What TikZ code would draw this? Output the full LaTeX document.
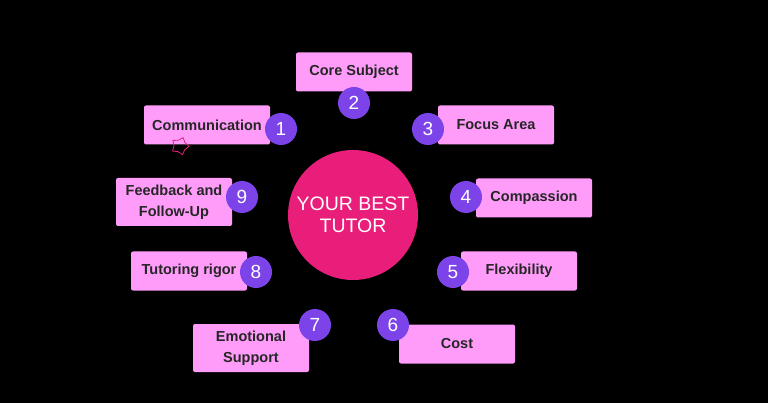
\documentclass[tikz,border=0pt]{standalone}
\usepackage{fontspec}
\setmainfont{Liberation Sans}
\usetikzlibrary{shapes.geometric}
\definecolor{hubpink}{HTML}{E91E7B}
\definecolor{boxpink}{HTML}{FF9CFA}
\definecolor{numviolet}{HTML}{7C44E8}
\tikzset{
  topic/.style={fill=boxpink, rounded corners=2pt, minimum width=116pt, minimum height=39pt, inner sep=1pt, align=center, font=\bfseries\fontsize{14.5}{21}\selectfont, text=black!85},
  num/.style={circle, fill=numviolet, minimum size=32pt, inner sep=0pt, text=white, font=\fontsize{19}{19}\selectfont}
}
\begin{document}
\begin{tikzpicture}[x=1pt, y=-1pt]
    \fill[black] (0,0) rectangle (768,403);
    \useasboundingbox (0,0) rectangle (768,403);
    \node[circle, fill=hubpink, minimum size=130pt, text=white, align=center, font=\fontsize{19.5}{22}\selectfont](hub) at (353,215){YOUR BEST\\TUTOR};

    \node[topic, minimum width=126pt](t1) at (207,125){Communication};
    \node[topic](t2) at (354,72){Core Subject};
    \node[topic](t3) at (496,125){Focus Area};
    \node[topic](t4) at (534,198){Compassion};
    \node[topic](t5) at (519,271){Flexibility};
    \node[topic](t6) at (457,344){Cost};
    \node[topic, minimum height=48pt](t7) at (251,348){Emotional\\Support};
    \node[topic](t8) at (189,271){Tutoring rigor};
    \node[topic, minimum height=48pt](t9) at (174,202){Feedback and\\Follow-Up};

    \node[num](n1) at (281,129){1};
    \node[num](n2) at (354,103){2};
    \node[num](n3) at (428,129){3};
    \node[num](n4) at (466,197){4};
    \node[num](n5) at (453,272){5};
    \node[num](n6) at (393,325){6};
    \node[num](n7) at (315,325){7};
    \node[num](n8) at (256,272){8};
    \node[num](n9) at (242,197){9};

    \node[star, star points=5, draw=hubpink, line width=0.8pt, minimum size=18pt, inner sep=0pt, rotate=-20](mark) at (180,146){};
\end{tikzpicture}
\end{document}
